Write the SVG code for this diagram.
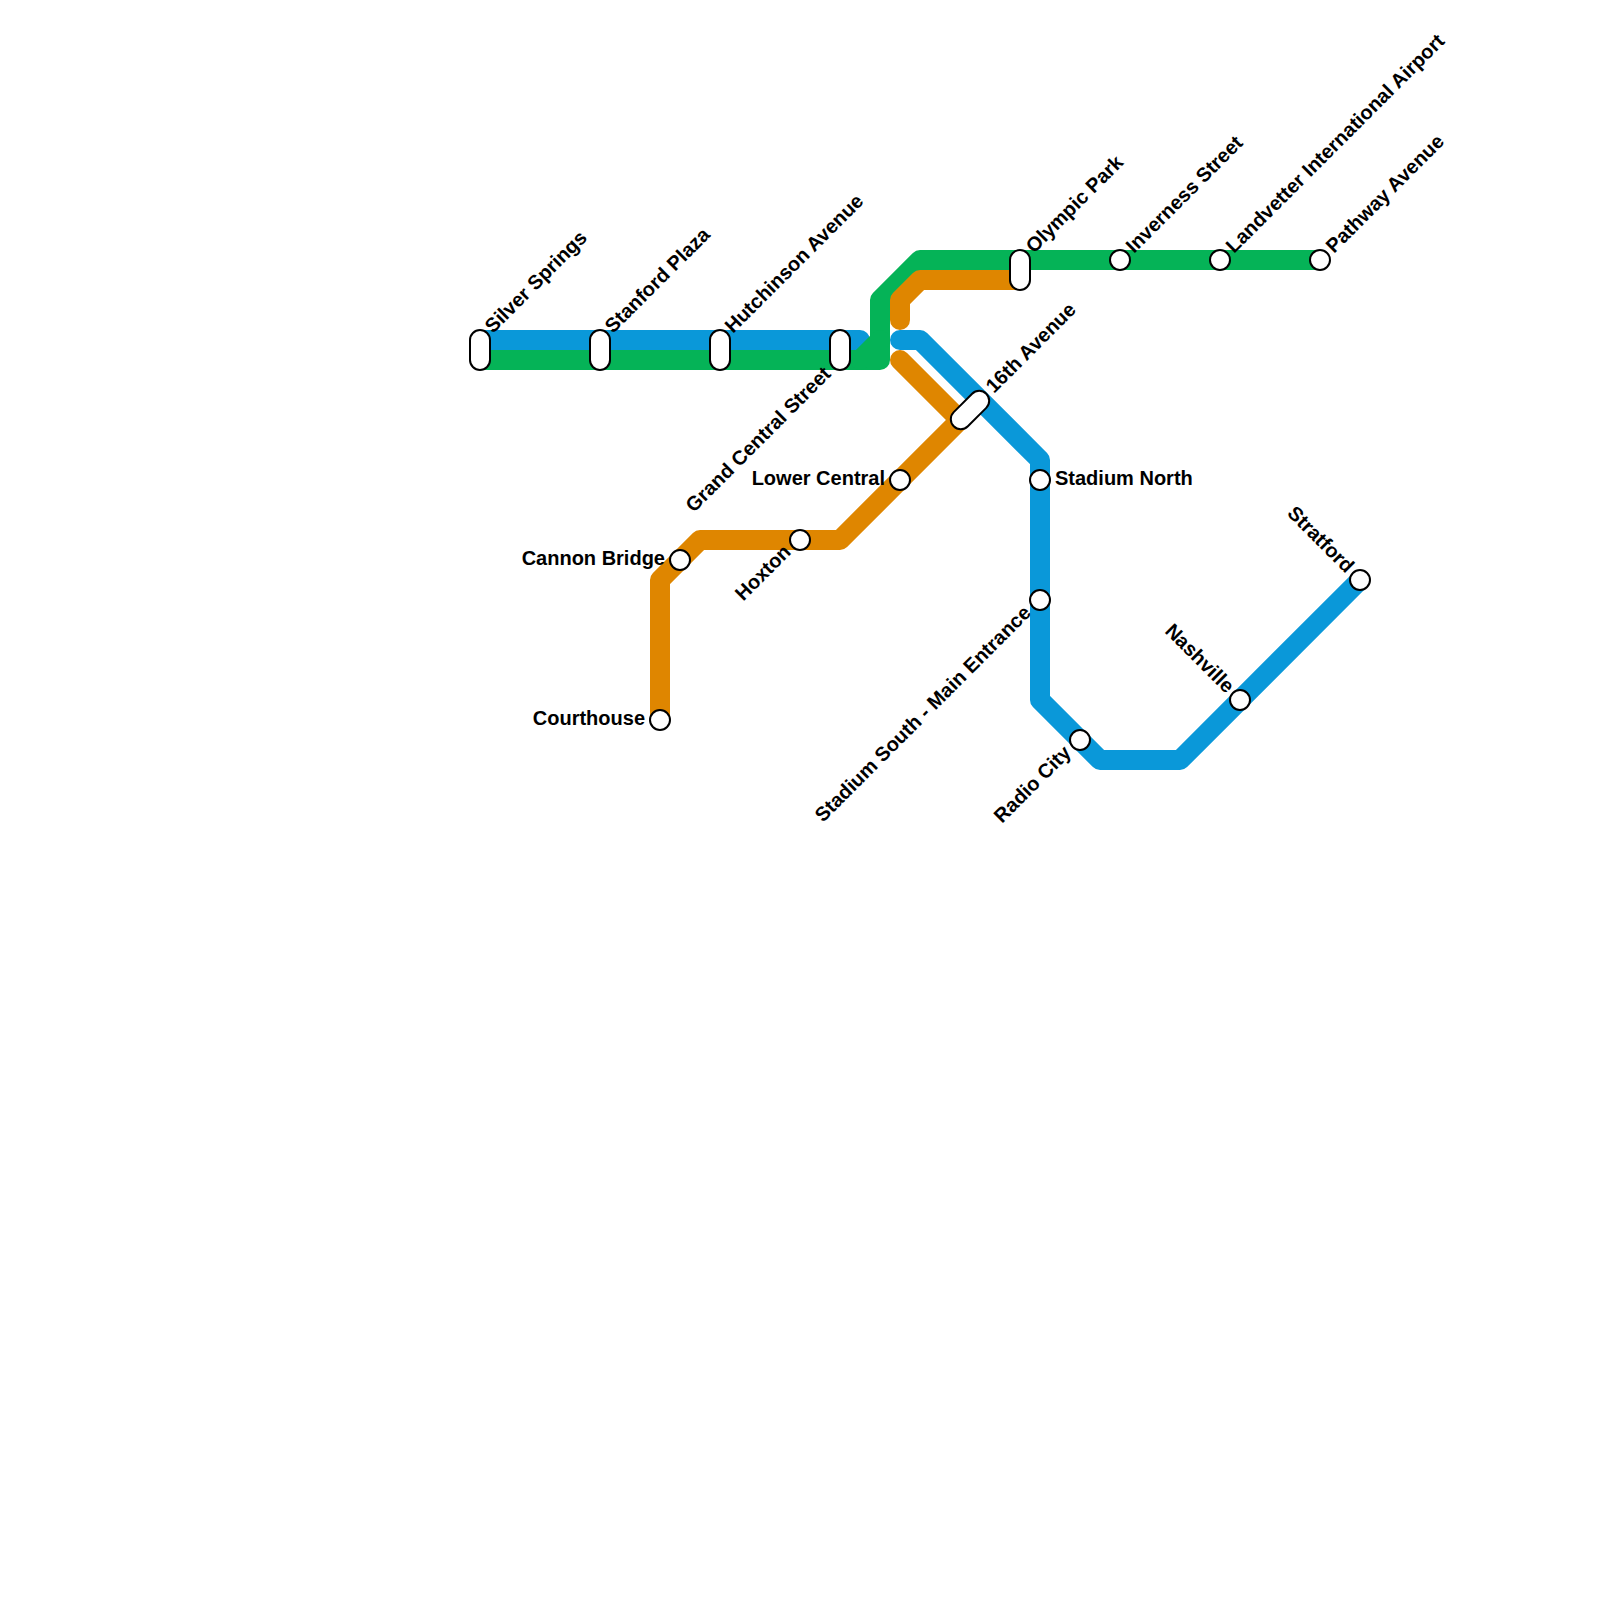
<svg xmlns="http://www.w3.org/2000/svg" width="1600" height="1600" viewBox="0 0 1600 1600">
<style>
.line{fill:none;stroke-width:20;stroke-linecap:round;stroke-linejoin:round}
.blue{stroke:#0a98d9}
.green{stroke:#05b357}
.orange{stroke:#df8600}
.st{fill:#fff;stroke:#000;stroke-width:2}
text{font-family:"Liberation Sans",Arial,sans-serif;font-size:20px;font-weight:bold;fill:#000}
.e{text-anchor:end}
</style>
<rect width="1600" height="1600" fill="#fff"/>
<g id="connectors">
<path class="line blue" d="M480 340H860"/>
<path class="line green" d="M480 360H880V300L920 260H1320"/>
<path class="line green" d="M860 360L880 340"/>
<path class="line blue" d="M900 340H920L1040 460V700L1100 760H1180L1360 580"/>
<path class="line orange" d="M900 320V300L920 280H1020"/>
<path class="line orange" d="M900 360L960 420L840 540H700L660 580V720"/>
</g>
<g id="silver-springs"><rect class="st" x="470" y="330" width="20" height="40" rx="10"/><text transform="translate(493 334) rotate(-45)">Silver Springs</text></g>
<g id="stanford-plaza"><rect class="st" x="590" y="330" width="20" height="40" rx="10"/><text transform="translate(613 334) rotate(-45)">Stanford Plaza</text></g>
<g id="hutchinson-avenue"><rect class="st" x="710" y="330" width="20" height="40" rx="10"/><text transform="translate(733 334) rotate(-45)">Hutchinson Avenue</text></g>
<g id="grand-central-street"><rect class="st" x="830" y="330" width="20" height="40" rx="10"/><text class="e" transform="translate(832 375) rotate(-45)">Grand Central Street</text></g>
<g id="olympic-park"><rect class="st" x="1010" y="250" width="20" height="40" rx="10"/><text transform="translate(1034 254) rotate(-45)">Olympic Park</text></g>
<g id="inverness-street"><circle class="st" cx="1120" cy="260" r="10"/><text transform="translate(1134 254) rotate(-45)">Inverness Street</text></g>
<g id="landvetter"><circle class="st" cx="1220" cy="260" r="10"/><text transform="translate(1234 254) rotate(-45)">Landvetter International Airport</text></g>
<g id="pathway-avenue"><circle class="st" cx="1320" cy="260" r="10"/><text transform="translate(1334 254) rotate(-45)">Pathway Avenue</text></g>
<g id="sixteenth-avenue"><rect class="st" x="947" y="400" width="46" height="20" rx="10" transform="rotate(-45 970 410)"/><text transform="translate(994 394) rotate(-45)">16th Avenue</text></g>
<g id="lower-central"><circle class="st" cx="900" cy="480" r="10"/><text class="e" x="885" y="485">Lower Central</text></g>
<g id="hoxton"><circle class="st" cx="800" cy="540" r="10"/><text class="e" transform="translate(792 553) rotate(-45)">Hoxton</text></g>
<g id="cannon-bridge"><circle class="st" cx="680" cy="560" r="10"/><text class="e" x="665" y="565">Cannon Bridge</text></g>
<g id="courthouse"><circle class="st" cx="660" cy="720" r="10"/><text class="e" x="645" y="725">Courthouse</text></g>
<g id="stadium-north"><circle class="st" cx="1040" cy="480" r="10"/><text x="1055" y="485">Stadium North</text></g>
<g id="stadium-south"><circle class="st" cx="1040" cy="600" r="10"/><text class="e" transform="translate(1032 614) rotate(-45)">Stadium South - Main Entrance</text></g>
<g id="radio-city"><circle class="st" cx="1080" cy="740" r="10"/><text class="e" transform="translate(1072 754) rotate(-45)">Radio City</text></g>
<g id="nashville"><circle class="st" cx="1240" cy="700" r="10"/><text class="e" transform="translate(1226 694) rotate(45)">Nashville</text></g>
<g id="stratford"><circle class="st" cx="1360" cy="580" r="10"/><text class="e" transform="translate(1346 574) rotate(45)">Stratford</text></g>
</svg>
